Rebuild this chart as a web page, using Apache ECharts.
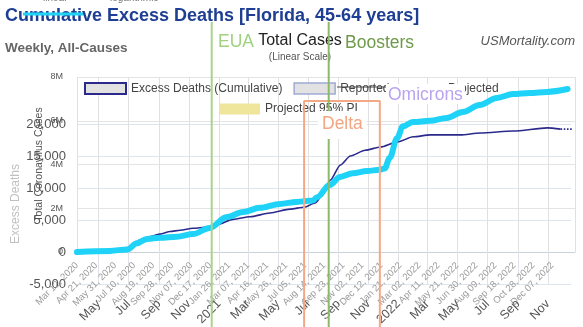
<!DOCTYPE html>
<html><head><meta charset="utf-8">
<script src="https://cdn.jsdelivr.net/npm/echarts@6/dist/echarts.min.js"></script>
<style>html,body{margin:0;padding:0;background:#fff}#c{width:583px;height:327px}</style>
</head><body><div id="c"></div>
<script>
// ---- Chart A: cumulative excess deaths (x = days since Mar 12, 2020) ----
const excessDays   = [0,34,69,105,112,133,154,175,196,217,244,274,295,328,364,406,448,478,501,516,533,554,575,606,638,674,707,743,806,848,918,989,1017];
const excessValues = [0,200,400,600,900,1900,2400,2800,3200,3400,3700,3900,4300,5100,5500,6100,6700,7000,7650,8900,11250,13600,15000,15900,16400,17200,18000,18300,18300,18600,18900,19400,19200];
const projectedDays   = [1017,1048];
const projectedValues = [19200,19200];
const excessTickLabels = ["Mar 12, 2020","Apr 21, 2020","May 31, 2020","Jul 10, 2020","Aug 19, 2020","Sep 28, 2020","Nov 07, 2020","Dec 17, 2020","Jan 26, 2021","Mar 07, 2021","Apr 16, 2021","May 26, 2021","Jul 05, 2021","Aug 14, 2021","Sep 23, 2021","Nov 02, 2021","Dec 12, 2021","Jan 21, 2022","Mar 02, 2022","Apr 11, 2022","May 21, 2022","Jun 30, 2022","Aug 09, 2022","Sep 18, 2022","Oct 28, 2022","Dec 07, 2022"];

// ---- Chart B: total coronavirus cases (millions) ----
const caseDates  = ['2020-03-18','2020-05-24','2020-06-28','2020-07-18','2020-08-07','2020-09-03','2020-10-07','2020-11-09','2020-12-13','2021-01-17','2021-02-19','2021-03-25','2021-05-05','2021-06-08','2021-07-11','2021-07-19','2021-08-14','2021-09-04','2021-09-30','2021-10-29','2021-11-24','2021-12-04','2021-12-14','2021-12-29','2022-01-10','2022-01-30','2022-03-06','2022-04-09','2022-05-12','2022-06-15','2022-07-20','2022-08-22','2022-09-25','2022-10-30','2022-12-11'];
const caseValues = [0,0.05,0.12,0.40,0.60,0.65,0.70,0.82,1.10,1.60,1.83,2.02,2.20,2.29,2.36,2.50,3.06,3.43,3.60,3.70,3.76,3.82,4.30,5.20,5.75,5.94,6.00,6.13,6.40,6.72,7.04,7.22,7.27,7.32,7.45];
const monthLabels = ['Jan','Feb','Mar','Apr','May','Jun','Jul','Aug','Sep','Oct','Nov','Dec'];

// ---- Events ----
const eventNames = ['EUA','Boosters'];
const eventDates = ['2020-12-17','2021-08-12'];
const eventColors = ['#a9d38c','#8db86a'];
const deltaRange = ['2021-06-23','2021-11-24'];
const DELTA_TOP = 0.7435; // fraction of the overlay grid height

const ts = s => { const p = s.split('-').map(Number); return new Date(p[0], p[1]-1, p[2]).getTime(); };
const FONT = '"Liberation Sans", Arial, sans-serif';
const navy = '#2b2a8c', cyan = '#1ed3f7';

const eventSeries = eventDates.map((d, i) => ({
  name: eventNames[i], type: 'line', xAxisIndex: 2, yAxisIndex: 2, z: 10 + i, silent: true, symbol: 'none',
  data: [[ts(d), 0], [ts(d), 1]], lineStyle: {color: eventColors[i], width: 2}
}));
const deltaSeries = {
  name: 'Delta', type: 'line', xAxisIndex: 2, yAxisIndex: 2, z: 9, silent: true, symbol: 'none',
  data: [[ts(deltaRange[0]), 0], [ts(deltaRange[0]), DELTA_TOP], [ts(deltaRange[1]), DELTA_TOP], [ts(deltaRange[1]), 0]],
  lineStyle: {color: '#f4a883', width: 2}
};

const chart = echarts.init(document.getElementById('c'));
chart.setOption({
  animation: false,
  textStyle: {fontFamily: FONT},
  title: [
    {text: 'Cumulative Excess Deaths [Florida, 45-64 years]', left: 5, top: 7, padding: 0,
     textStyle: {fontSize: 18, fontWeight: 'bold', color: '#1d3e93', fontFamily: FONT},
     subtext: 'Weekly, All-Causes', itemGap: 16,
     subtextStyle: {fontSize: 13.5, fontWeight: 'bold', color: '#666', fontFamily: FONT}},
    {text: 'Total Cases', left: 300, textAlign: 'center', top: 33, padding: 0,
     textStyle: {fontSize: 16, fontWeight: 'normal', color: '#222', fontFamily: FONT},
     subtext: '(Linear Scale)', itemGap: 3,
     subtextStyle: {fontSize: 10, color: '#555', fontFamily: FONT}},
    {text: 'USMortality.com', right: 8, top: 34.5, padding: 0,
     textStyle: {fontSize: 13, fontStyle: 'italic', fontWeight: 'normal', color: '#555', fontFamily: FONT}}
  ],
  legend: [
    {left: 84, top: 82, padding: 0, itemWidth: 41, itemHeight: 11, itemGap: 11, selectedMode: false,
     textStyle: {fontSize: 12, color: '#444'},
     data: [
       {name: 'Excess Deaths (Cumulative)', icon: 'rect', itemStyle: {color: '#e2e2e2', borderColor: navy, borderWidth: 2}},
       {name: 'Reported', icon: 'rect', itemStyle: {color: '#e2e2e2', borderColor: '#9eacd4', borderWidth: 1.5}},
       {name: 'Projected', lineStyle: {type: 'dotted', width: 3, color: navy}}
     ]},
    {left: 219, top: 103, padding: 0, itemWidth: 41, itemHeight: 11, selectedMode: false,
     textStyle: {fontSize: 12, color: '#444'},
     data: [{name: 'Projected 95% PI', icon: 'rect', itemStyle: {color: '#efe59b', borderWidth: 0}}]}
  ],
  grid: [
    {left: 77, right: 12, top: 124, bottom: 43, outerBoundsMode: 'none', containLabel: false},
    {left: 77, right: 8, top: 77, bottom: 75, outerBoundsMode: 'none', containLabel: false},
    {left: 77, right: 8, top: 22, bottom: -3, outerBoundsMode: 'none', containLabel: false}
  ],
  xAxis: [
    {type: 'value', gridIndex: 0, min: 0, max: 1039, interval: 40, offset: -32,
     axisLine: {onZero: false, lineStyle: {color: '#c8d2dc'}}, axisTick: {show: false}, splitLine: {show: false},
     axisLabel: {rotate: 45, fontSize: 9.5, color: '#9a9a9a', margin: 12, showMaxLabel: false,
       formatter: v => excessTickLabels[v / 40] || ''}},
    {type: 'time', gridIndex: 1, min: ts('2020-03-18'), max: ts('2022-12-26'), splitNumber: 14,
     axisLine: {onZero: false, lineStyle: {color: '#c8d2dc'}},
     axisTick: {show: true, length: 32, lineStyle: {color: '#dfe3e8'}},
     splitLine: {show: true, lineStyle: {color: '#e0e0e0'}},
     axisLabel: {rotate: 45, fontSize: 12.5, color: '#555', margin: 50, showMinLabel: false, showMaxLabel: false,
       formatter: v => { const d = new Date(v); return d.getMonth() === 0 ? String(d.getFullYear()) : monthLabels[d.getMonth()]; }}},
    {type: 'time', gridIndex: 2, min: ts('2020-03-18'), max: ts('2022-12-26'), show: false}
  ],
  yAxis: [
    {type: 'value', gridIndex: 0, min: -5000, max: 20000, interval: 5000,
     name: 'Excess Deaths', nameLocation: 'middle', nameGap: 55, nameMoveOverlap: false,
     nameTextStyle: {color: '#c0c0c0', fontSize: 12},
     axisLine: {show: false, onZero: false}, axisTick: {show: false},
     axisLabel: {fontSize: 13, color: '#555', margin: 11},
     splitLine: {lineStyle: {color: '#dfe5ec'}}},
    {type: 'value', gridIndex: 1, min: 0, max: 8e6, interval: 2e6,
     name: 'Total Coronavirus Cases', nameLocation: 'middle', nameGap: 32, nameMoveOverlap: false,
     nameTextStyle: {color: '#555', fontSize: 10.5},
     axisLine: {show: false, onZero: false}, axisTick: {show: false},
     axisLabel: {fontSize: 9, color: '#555', margin: 14, formatter: v => v === 0 ? '0' : (v / 1e6) + 'M'},
     splitLine: {lineStyle: {color: '#e4e4e4'}}},
    {type: 'value', gridIndex: 2, min: 0, max: 1, show: false}
  ],
  series: [
    {name: 'Excess Deaths (Cumulative)', type: 'line', xAxisIndex: 0, yAxisIndex: 0, z: 2,
     data: excessDays.map((d, i) => [d, excessValues[i]]), showSymbol: false, symbol: 'none',
     smooth: 0.25, smoothMonotone: 'x', lineStyle: {color: navy, width: 1.6}, itemStyle: {color: navy}},
    {name: 'Reported', type: 'line', xAxisIndex: 0, yAxisIndex: 0, data: [], itemStyle: {color: '#9eacd4'}},
    {name: 'Projected', type: 'line', xAxisIndex: 0, yAxisIndex: 0, clip: false, symbol: 'none',
     data: projectedDays.map((d, i) => [d, projectedValues[i]]),
     lineStyle: {color: navy, width: 1.6, type: 'dotted'}, itemStyle: {color: navy}},
    {name: 'Projected 95% PI', type: 'line', xAxisIndex: 0, yAxisIndex: 0, data: [], itemStyle: {color: '#efe59b'}},
    {name: 'Total Cases', type: 'line', xAxisIndex: 1, yAxisIndex: 1, z: 3, clip: false, symbol: 'none',
     data: caseDates.map((d, i) => [ts(d), caseValues[i] * 1e6]),
     smooth: 0.35, smoothMonotone: 'x', lineStyle: {color: cyan, width: 6, cap: 'round'}},
    ...eventSeries,
    deltaSeries
  ],
  graphic: [
    {type: 'text', left: 43, top: -7, style: {text: 'linear', fontSize: 10, fill: '#777', fontFamily: FONT}},
    {type: 'text', left: 110, top: -7, style: {text: 'logarithmic', fontSize: 10, fill: '#777', fontFamily: FONT}},
    {type: 'line', z: 100, shape: {x1: 23, y1: 14, x2: 83, y2: 14}, style: {stroke: cyan, lineWidth: 3}},
    {type: 'line', z: 100, shape: {x1: 337, y1: 87, x2: 386, y2: 87}, style: {stroke: '#444', lineWidth: 1}},
    {type: 'text', z: 100, left: 218, top: 33, style: {text: eventNames[0], fontSize: 17.5, fill: '#9fd17f', fontFamily: FONT}},
    {type: 'text', z: 100, left: 345, top: 34, style: {text: eventNames[1], fontSize: 17.5, fill: '#6f9a4a', fontFamily: FONT}},
    {type: 'text', z: 100, left: 318, top: 111, style: {text: 'Delta', fontSize: 17.5, fill: '#f4a582', fontFamily: FONT, backgroundColor: '#fff', padding: [4, 4, 6, 4]}},
    {type: 'text', z: 100, left: 386, top: 84, style: {text: 'Omicrons', fontSize: 17.5, fill: '#b9a3f0', fontFamily: FONT, backgroundColor: '#fff', padding: [2, 2, 0, 2]}}
  ]
});
</script></body></html>
